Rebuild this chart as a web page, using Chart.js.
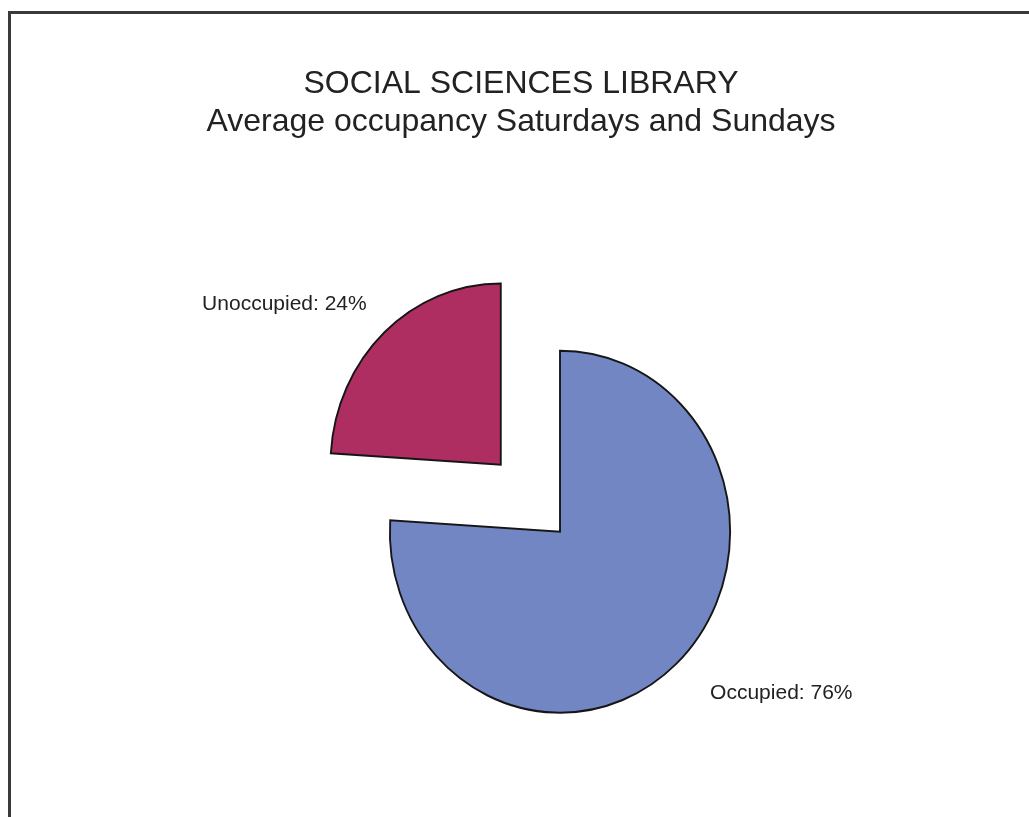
<!DOCTYPE html>
<html>
<head>
<meta charset="utf-8">
<title>Social Sciences Library occupancy</title>
<script src="https://cdn.jsdelivr.net/npm/chart.js@4.4.1/dist/chart.umd.min.js"></script>
<style>
  html, body { margin: 0; padding: 0; background: #fff; }
  #wrap { width: 1029px; height: 817px; }
</style>
</head>
<body>
<div id="wrap"><canvas id="graficoPizza" width="1029" height="817"></canvas></div>
<script>
// ===============================
// DATA
// ===============================
const titleLines = ['SOCIAL SCIENCES LIBRARY', 'Average occupancy Saturdays and Sundays'];
const categories = ['Occupied', 'Unoccupied'];
const shares = [76, 24];

const FONT = '"Liberation Sans", Arial, Helvetica, sans-serif';
const TEXT = '#222222';
const SQUASH_X = 0.94; // the pie is drawn slightly narrower than tall

// ===============================
// PLUGINS
// ===============================

// frame on the left and top edges
const moldura = {
  id: 'moldura',
  beforeDraw(chart) {
    const { ctx, width, height } = chart;
    ctx.save();
    ctx.fillStyle = '#3a3a3a';
    ctx.fillRect(8, 11, 3, height);
    ctx.fillRect(8, 11, width, 3);
    ctx.restore();
  }
};

// two-line title
const titulo = {
  id: 'titulo',
  afterDraw(chart) {
    const { ctx } = chart;
    ctx.save();
    ctx.font = `32px ${FONT}`;
    ctx.fillStyle = TEXT;
    ctx.textAlign = 'center';
    ctx.textBaseline = 'alphabetic';
    titleLines.forEach((line, i) => ctx.fillText(line, 521, 93 + i * 37.5));
    ctx.restore();
  }
};

// squash the arcs horizontally around the pie centre, then put the labels out along each slice
const elipse = {
  id: 'elipse',
  beforeDatasetsDraw(chart) {
    const arc = chart.getDatasetMeta(0).data[0];
    if (!arc) return;
    const { ctx } = chart;
    ctx.save();
    ctx.translate(arc.x, 0);
    ctx.scale(SQUASH_X, 1);
    ctx.translate(-arc.x, 0);
  },
  afterDatasetsDraw(chart) {
    const { ctx } = chart;
    ctx.restore();

    const meta = chart.getDatasetMeta(0);
    ctx.save();
    ctx.font = `21px ${FONT}`;
    ctx.fillStyle = TEXT;
    ctx.textBaseline = 'middle';
    meta.data.forEach((arc, i) => {
      const { x, y, startAngle, endAngle, outerRadius } = arc.getProps(['x', 'y', 'startAngle', 'endAngle', 'outerRadius'], true);
      const mid = (startAngle + endAngle) / 2;
      const off = (arc.options.offset || 0) / 4;
      const dist = off + outerRadius * 1.22;
      // labels sit a little to the right of the radial point
      const px = x + Math.cos(mid) * dist * SQUASH_X + 8;
      const py = y + Math.sin(mid) * dist + 1;
      ctx.textAlign = Math.cos(mid) < 0 ? 'right' : 'left';
      ctx.fillText(`${categories[i]}: ${shares[i]}%`, px, py);
    });
    ctx.restore();
  }
};

// ===============================
// CHART
// ===============================
const canvas = document.getElementById('graficoPizza');

new Chart(canvas, {
  type: 'pie',
  data: {
    labels: categories,
    datasets: [{
      data: shares,
      backgroundColor: ['#7286c3', '#af2e62'],
      borderColor: '#161616',
      borderWidth: 2,
      borderJoinStyle: 'miter',
      offset: [0, 368],
      clip: false
    }]
  },
  options: {
    responsive: false,
    animation: false,
    radius: 181,
    layout: { padding: { left: 200, right: 109, top: 260, bottom: 13.6 } },
    plugins: {
      legend: { display: false },
      tooltip: { enabled: false },
      title: { display: false }
    }
  },
  plugins: [moldura, elipse, titulo]
});
</script>
</body>
</html>
